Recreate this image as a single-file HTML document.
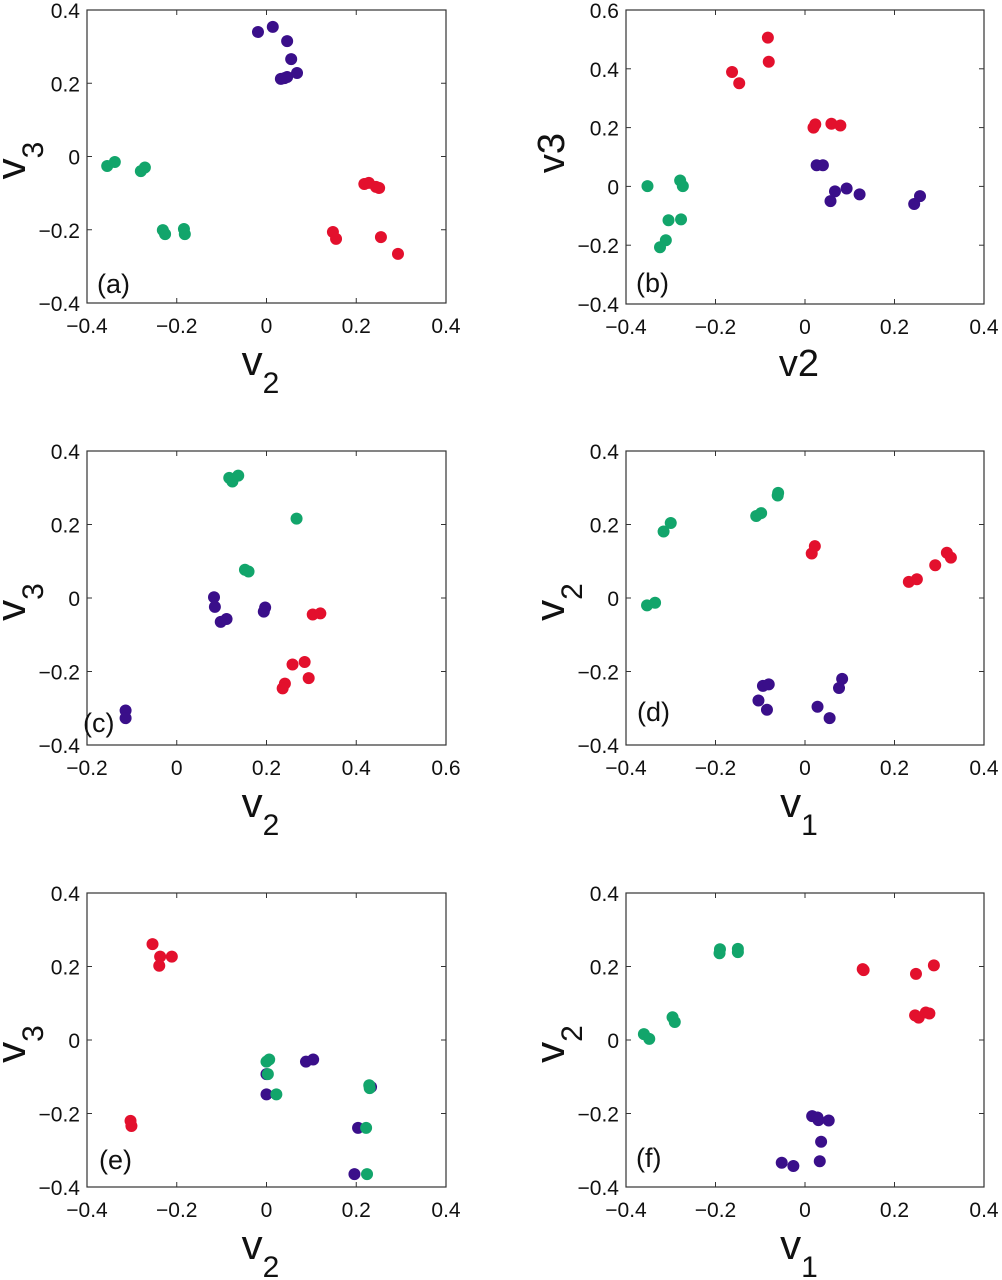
<!DOCTYPE html>
<html><head><meta charset="utf-8"><style>
html,body{margin:0;padding:0;background:#fff;}
svg{display:block;font-family:"Liberation Sans",Arial,sans-serif;}
</style></head><body>
<svg id="fig" width="1002" height="1280" viewBox="0 0 1002 1280" xmlns="http://www.w3.org/2000/svg"></svg>
<script>
// ---- data (values per panel, per cluster) ----
const aPurpleX=[-0.019,0.014,0.046,0.055,0.068,0.032,0.046,0.040];
const aPurpleY=[0.340,0.354,0.315,0.266,0.228,0.212,0.217,0.214];
const aGreenX=[-0.355,-0.338,-0.280,-0.271,-0.231,-0.226,-0.184,-0.182];
const aGreenY=[-0.026,-0.015,-0.040,-0.030,-0.201,-0.212,-0.198,-0.212];
const aRedX=[0.218,0.228,0.244,0.251,0.148,0.155,0.255,0.293];
const aRedY=[-0.075,-0.072,-0.083,-0.086,-0.206,-0.225,-0.220,-0.266];

const bPurpleX=[0.026,0.040,0.057,0.067,0.093,0.122,0.244,0.257];
const bPurpleY=[0.072,0.072,-0.050,-0.017,-0.007,-0.027,-0.060,-0.033];
const bGreenX=[-0.352,-0.279,-0.273,-0.305,-0.277,-0.311,-0.324];
const bGreenY=[0.001,0.020,0.001,-0.115,-0.112,-0.183,-0.207];
const bRedX=[-0.083,-0.081,-0.163,-0.147,0.019,0.023,0.059,0.079];
const bRedY=[0.506,0.424,0.389,0.351,0.200,0.211,0.213,0.207];

const cPurpleX=[0.083,0.085,0.098,0.111,0.197,0.194,-0.114,-0.114];
const cPurpleY=[0.002,-0.024,-0.065,-0.057,-0.026,-0.037,-0.306,-0.327];
const cGreenX=[0.117,0.124,0.137,0.267,0.152,0.160];
const cGreenY=[0.327,0.317,0.333,0.216,0.077,0.072];
const cRedX=[0.303,0.320,0.258,0.285,0.294,0.241,0.236];
const cRedY=[-0.045,-0.042,-0.181,-0.174,-0.218,-0.233,-0.246];

const dPurpleX=[-0.094,-0.081,-0.104,-0.085,0.028,0.055,0.076,0.083];
const dPurpleY=[-0.239,-0.235,-0.279,-0.304,-0.296,-0.327,-0.245,-0.220];
const dGreenX=[-0.353,-0.335,-0.316,-0.300,-0.109,-0.098,-0.061,-0.060];
const dGreenY=[-0.020,-0.013,0.181,0.204,0.223,0.231,0.279,0.286];
const dRedX=[0.015,0.022,0.232,0.250,0.291,0.317,0.326];
const dRedY=[0.121,0.141,0.044,0.051,0.089,0.123,0.110];

const ePurpleX=[0.000,0.000,0.088,0.104,0.204,0.196,0.233];
const ePurpleY=[-0.093,-0.148,-0.059,-0.053,-0.239,-0.365,-0.128];
const eGreenX=[0.000,0.006,0.003,0.022,0.229,0.230,0.222,0.224];
const eGreenY=[-0.059,-0.053,-0.093,-0.148,-0.123,-0.131,-0.239,-0.365];
const eRedX=[-0.254,-0.237,-0.239,-0.211,-0.303,-0.301];
const eRedY=[0.261,0.227,0.202,0.227,-0.220,-0.234];

const fPurpleX=[0.016,0.028,0.030,0.053,0.036,0.033,-0.052,-0.026];
const fPurpleY=[-0.207,-0.211,-0.218,-0.219,-0.277,-0.330,-0.334,-0.343];
const fGreenX=[-0.360,-0.348,-0.296,-0.291,-0.190,-0.191,-0.150,-0.150];
const fGreenY=[0.016,0.003,0.062,0.049,0.247,0.236,0.248,0.239];
const fRedX=[0.129,0.131,0.248,0.288,0.246,0.254,0.270,0.278];
const fRedY=[0.193,0.190,0.180,0.203,0.067,0.061,0.075,0.072];

const ticksStd=[-0.4,-0.2,0,0.2,0.4];
const ticksB_Y=[-0.4,-0.2,0,0.2,0.4,0.6];
const ticksC_X=[-0.2,0,0.2,0.4,0.6];

const NS="http://www.w3.org/2000/svg";
const svg=document.getElementById('fig');
const PURPLE="#3a0f8a", GREEN="#12a56b", RED="#e3102d";
function mk(tag,attrs,parent){const e=document.createElementNS(NS,tag);for(const k in attrs)e.setAttribute(k,attrs[k]);(parent||svg).appendChild(e);return e;}
function fmt(v){if(Math.abs(v)<1e-9)return "0";const s=Math.abs(v).toFixed(1);return (v<0?"\u2212":"")+s;}

function panel(p){
  const g=mk('g',{});
  
  
  const sx=v=>p.L+(v-p.xmin)/(p.xmax-p.xmin)*p.W;
  const sy=v=>p.T+(p.ymax-v)/(p.ymax-p.ymin)*p.H;
  const box=mk('rect',{x:p.L,y:p.T,width:p.W,height:p.H,fill:'#fff',stroke:'#333','stroke-width':1.2},g);
  
  
  p.xt.forEach(v=>{
    const x=sx(v);
    mk('line',{x1:x,y1:p.T+p.H,x2:x,y2:p.T+p.H-5,stroke:'#333','stroke-width':1},g);
    mk('line',{x1:x,y1:p.T,x2:x,y2:p.T+5,stroke:'#333','stroke-width':1},g);
    const t=mk('text',{x:x,y:p.T+p.H+30,'font-size':21,'text-anchor':'middle',fill:'#111'},g);
    t.textContent=fmt(v);
    
    
  });
  p.yt.forEach(v=>{
    const y=sy(v);
    mk('line',{x1:p.L,y1:y,x2:p.L+5,y2:y,stroke:'#333','stroke-width':1},g);
    mk('line',{x1:p.L+p.W,y1:y,x2:p.L+p.W-5,y2:y,stroke:'#333','stroke-width':1},g);
    const t=mk('text',{x:p.L-7,y:y+8,'font-size':21,'text-anchor':'end',fill:'#111'},g);
    t.textContent=fmt(v);
    
    
  });
  const series=[[p.px,p.py,PURPLE,'purple'],[p.gx,p.gy,GREEN,'green'],[p.rx,p.ry,RED,'red']];
  series.forEach(s=>{
    s[0].forEach((v,i)=>{
      const c=mk('circle',{cx:sx(v),cy:sy(s[1][i]),r:6,fill:s[2]},g);
      
      
    });
  });
  // panel letter
  const lt=mk('text',{x:p.L+p.lx,y:p.T+p.H-p.ly,'font-size':27,fill:'#111'},g);
  lt.textContent='('+p.id+')';
  
  
  // x label
  const cx=p.L+p.W/2;
  const xl=mk('text',{x:cx-6,y:p.T+p.H+72,'font-size':p.sub?42:38,'text-anchor':'middle',fill:'#111'},g);
  
  
  if(p.sub){
    const a=mk('tspan',{},xl);a.textContent=p.xl[0];
    const b=mk('tspan',{dy:18,'font-size':30},xl);b.textContent=p.xl[1];
  } else { xl.textContent=p.xl; }
  // y label
  const cy=p.T+p.H/2;
  const yl=mk('text',{x:0,y:0,'font-size':p.sub?42:38,'text-anchor':'middle',fill:'#111',transform:`translate(${p.L-62},${cy+(p.sub?4:-4)}) rotate(-90)`},g);
  
  
  if(p.sub){
    const a=mk('tspan',{},yl);a.textContent=p.yl[0];
    const b=mk('tspan',{dy:18,'font-size':30},yl);b.textContent=p.yl[1];
  } else { yl.textContent=p.yl; }
}

panel({id:'a',L:87,T:10,W:359,H:293,xmin:-0.4,xmax:0.4,ymin:-0.4,ymax:0.4,xt:ticksStd,yt:ticksStd,
  px:aPurpleX,py:aPurpleY,gx:aGreenX,gy:aGreenY,rx:aRedX,ry:aRedY,sub:true,xl:['v','2'],yl:['v','3'],lx:10,ly:10});
panel({id:'b',L:626,T:10,W:358,H:294,xmin:-0.4,xmax:0.4,ymin:-0.4,ymax:0.6,xt:ticksStd,yt:ticksB_Y,
  px:bPurpleX,py:bPurpleY,gx:bGreenX,gy:bGreenY,rx:bRedX,ry:bRedY,sub:false,xl:'v2',yl:'v3',lx:10,ly:12});
panel({id:'c',L:87,T:451,W:359,H:294,xmin:-0.2,xmax:0.6,ymin:-0.4,ymax:0.4,xt:ticksC_X,yt:ticksStd,
  px:cPurpleX,py:cPurpleY,gx:cGreenX,gy:cGreenY,rx:cRedX,ry:cRedY,sub:true,xl:['v','2'],yl:['v','3'],lx:-4,ly:13});
panel({id:'d',L:626,T:451,W:358,H:294,xmin:-0.4,xmax:0.4,ymin:-0.4,ymax:0.4,xt:ticksStd,yt:ticksStd,
  px:dPurpleX,py:dPurpleY,gx:dGreenX,gy:dGreenY,rx:dRedX,ry:dRedY,sub:true,xl:['v','1'],yl:['v','2'],lx:11,ly:24});
panel({id:'e',L:87,T:893,W:359,H:294,xmin:-0.4,xmax:0.4,ymin:-0.4,ymax:0.4,xt:ticksStd,yt:ticksStd,
  px:ePurpleX,py:ePurpleY,gx:eGreenX,gy:eGreenY,rx:eRedX,ry:eRedY,sub:true,xl:['v','2'],yl:['v','3'],lx:12,ly:18});
panel({id:'f',L:626,T:893,W:358,H:294,xmin:-0.4,xmax:0.4,ymin:-0.4,ymax:0.4,xt:ticksStd,yt:ticksStd,
  px:fPurpleX,py:fPurpleY,gx:fGreenX,gy:fGreenY,rx:fRedX,ry:fRedY,sub:true,xl:['v','1'],yl:['v','2'],lx:10,ly:20});
</script>
</body></html>
